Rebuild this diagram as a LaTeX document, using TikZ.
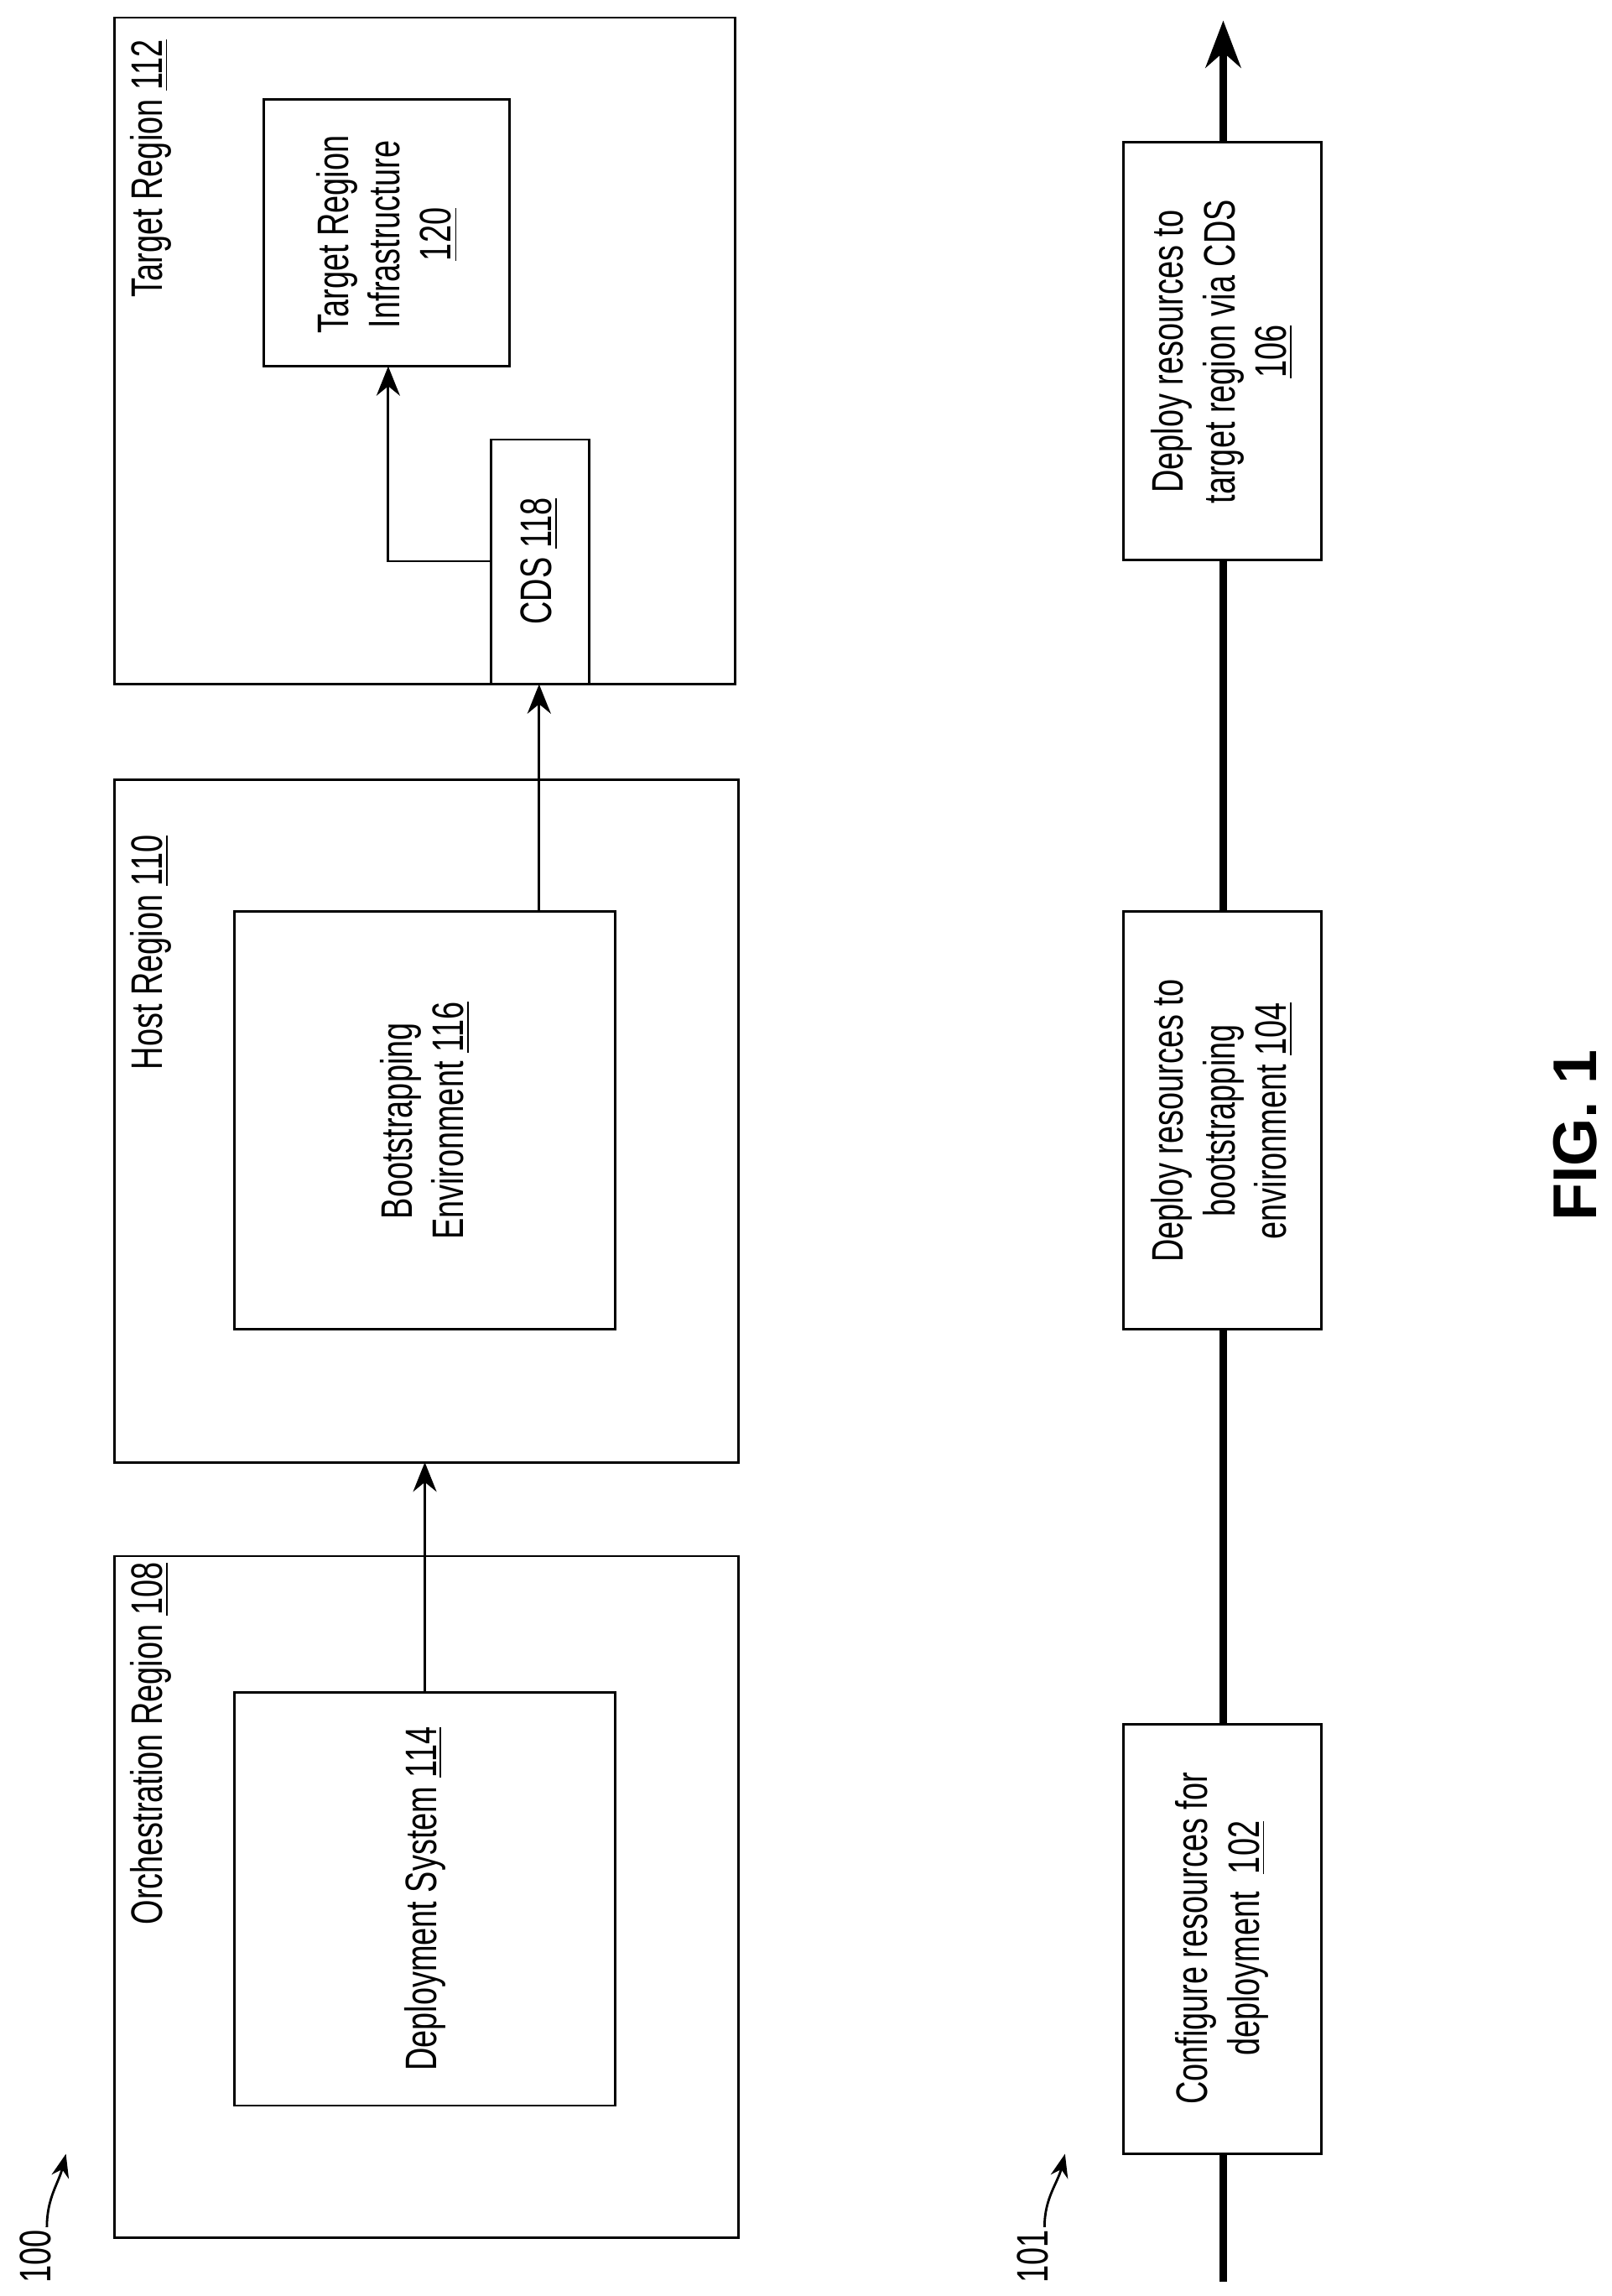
\documentclass[tikz,border=0pt]{standalone}
\usepackage{fontspec}
\setmainfont[FakeStretch=0.72]{Liberation Sans}
\newfontfamily\figfont{Liberation Sans}
\usetikzlibrary{arrows.meta}
\begin{document}
\begin{tikzpicture}[x=0.0175cm, y=-0.0175cm, thick,
  every node/.style={font=\fontsize{15}{17.5}\selectfont},
  label node/.style={rotate=90, align=center},
  flow/.style={-{Stealth[length=10pt,width=8pt]}}]
\useasboundingbox (0,0) rectangle (1100,1567);

% outer regions
\draw (78,1062) rectangle (504,1527);
\draw (78,532) rectangle (504,998);
\draw (78,12) rectangle (502,467);
\node[label node] (orl) at (103,1190) {Orchestration Region \underline{108}};
\node[label node] (hrl) at (103,650) {Host Region \underline{110}};
\node[label node] (trl) at (103,115) {Target Region \underline{112}};

% inner boxes
\draw (160,1155) rectangle (420,1437);
\node[label node] (ds) at (290,1296) {Deployment System \underline{114}};
\coordinate (dstop) at (290,1155);
\coordinate (hrbot) at (290,998);
\draw (160,622) rectangle (420,907);
\node[label node] (be) at (290,765) {Bootstrapping\\Environment \underline{116}};
\coordinate (betop) at (368,622);
\coordinate (cdsbot) at (368,467);
\draw[fill=white] (180,68) rectangle (348,250);
\node[label node] (tri) at (264,160) {Target Region\\Infrastructure\\\underline{120}};
\coordinate (tribot) at (265,250);
\draw (335,300) rectangle (402,467);
\node[label node] (cds) at (368,383) {CDS \underline{118}};
\coordinate (cdsleft) at (335,383);

\draw[flow] (dstop) -- (hrbot);
\draw[flow] (betop) -- (cdsbot);
\draw[flow] (cdsleft) -| (tribot);

% reference numerals
\node[rotate=90] (n100) at (24,1540) {100};
\draw[-{Stealth[length=8pt]}] (32,1520) .. controls (32,1500) and (40,1490) .. (45,1470);
\node[rotate=90] (n101) at (705,1540) {101};
\draw[-{Stealth[length=8pt]}] (713,1520) .. controls (713,1500) and (722,1490) .. (727,1470);

% timeline
\coordinate (tlstart) at (835,1557);
\coordinate (tlend) at (835,14);
\draw[line width=2.5pt, -{Stealth[length=16pt,width=12pt]}] (tlstart) -- (tlend);
\draw[fill=white] (767,1177) rectangle (902,1470);
\node[label node] (s102) at (834,1323) {Configure resources for\\deployment \ \underline{102}};
\draw[fill=white] (767,622) rectangle (902,907);
\node[label node] (s104) at (834,765) {Deploy resources to\\bootstrapping\\environment \underline{104}};
\draw[fill=white] (767,97) rectangle (902,382);
\node[label node] (s106) at (834,240) {Deploy resources to\\target region via CDS\\\underline{106}};

\node[rotate=90, font=\figfont\fontsize{21}{25}\selectfont\bfseries] (fig) at (1075,775) {FIG. 1};
\end{tikzpicture}
\end{document}
